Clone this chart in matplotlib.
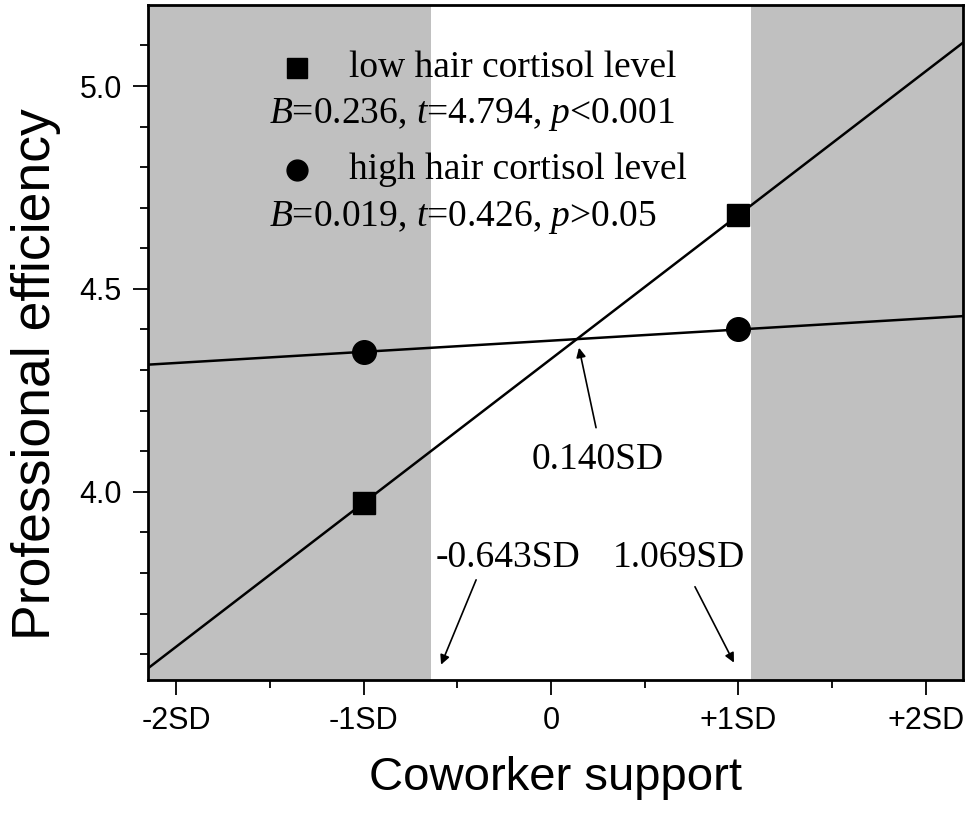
import matplotlib
matplotlib.use('Agg')
import matplotlib.pyplot as plt
import numpy as np

# data: simple slopes at -1SD / +1SD
x_pts = [-1, 1]
low_cort = [3.973, 4.682]
high_cort = [4.345, 4.400]
region_low, region_high = -0.643, 1.069
cross_x = 0.140
x_ticks = [-2, -1, 0, 1, 2]
x_labels = ['-2SD', '-1SD', '0', '+1SD', '+2SD']
y_ticks = [4.0, 4.5, 5.0]

xmin, xmax = -2.15, 2.2
ymin, ymax = 3.537, 5.2

plt.rcParams['mathtext.fontset'] = 'custom'
plt.rcParams['mathtext.rm'] = 'Liberation Serif'
plt.rcParams['mathtext.it'] = 'Liberation Serif:italic'

fig = plt.figure(figsize=(9.75, 8.13), dpi=100)
ax = fig.add_axes([0.152, 0.164, 0.836, 0.830])

# shaded regions outside of significance
ax.axvspan(xmin, region_low, color='#c0c0c0', lw=0, zorder=0)
ax.axvspan(region_high, xmax, color='#c0c0c0', lw=0, zorder=0)

# regression lines extended over the axis range
xx = np.array([xmin, xmax])
for ys in (low_cort, high_cort):
    k = (ys[1] - ys[0]) / (x_pts[1] - x_pts[0])
    ax.plot(xx, ys[0] + k * (xx - x_pts[0]), color='black', lw=1.8, zorder=2)

ax.plot(x_pts, low_cort, 's', color='black', ms=16, zorder=3)
ax.plot(x_pts, high_cort, 'o', color='black', ms=17, zorder=3)

# legend-like text
serif = 'Liberation Serif'
ax.plot([-1.355], [5.044], 's', color='black', ms=14)
ax.plot([-1.355], [4.793], 'o', color='black', ms=15)
ax.text(-1.077, 5.044, 'low hair cortisol level', family=serif, fontsize=27, va='center')
ax.text(-1.077, 4.793, 'high hair cortisol level', family=serif, fontsize=27, va='center')
ax.text(-1.504, 4.929, '$B$=0.236, $t$=4.794, $p$<0.001', family=serif, fontsize=27, va='center')
ax.text(-1.504, 4.675, '$B$=0.019, $t$=0.426, $p$>0.05', family=serif, fontsize=27, va='center')

# annotations
arr = dict(arrowstyle='-|>', color='black', lw=1.2, mutation_scale=14, shrinkA=0, shrinkB=0)
ax.annotate('', xy=(cross_x + 0.009, 4.355), xytext=(0.24, 4.158), arrowprops=arr)
ax.text(0.251, 4.079, '%.3fSD' % cross_x, family=serif, fontsize=27, ha='center', va='center')
ax.annotate('', xy=(-0.587, 3.574), xytext=(-0.40, 3.783), arrowprops=arr)
ax.text(-0.229, 3.837, '%.3fSD' % region_low, family=serif, fontsize=27, ha='center', va='center')
ax.annotate('', xy=(0.976, 3.579), xytext=(0.768, 3.766), arrowprops=arr)
ax.text(0.683, 3.837, '%.3fSD' % region_high, family=serif, fontsize=27, ha='center', va='center')

ax.set_xlim(xmin, xmax)
ax.set_ylim(ymin, ymax)
ax.set_xticks(x_ticks)
ax.set_xticklabels(x_labels)
ax.set_xticks(np.arange(-2, 2.01, 0.5), minor=True)
ax.set_yticks(y_ticks)
ax.set_yticklabels(['%.1f' % v for v in y_ticks])
ax.set_yticks(np.arange(3.6, 5.15, 0.1), minor=True)
ax.tick_params(which='major', direction='out', length=11, width=1.3, labelsize=22, pad=8)
ax.tick_params(which='minor', direction='out', length=6, width=1.3)
for lab in ax.get_xticklabels() + ax.get_yticklabels():
    lab.set_family('Liberation Sans')
for s in ax.spines.values():
    s.set_linewidth(2)

ax.set_xlabel('Coworker support', family='Liberation Sans', fontsize=34, labelpad=14)
ax.set_ylabel('Professional efficiency', family='Liberation Sans', fontsize=38.5)
ax.yaxis.set_label_coords(-0.107, 0.453)

fig.savefig('out.png', dpi=100)
